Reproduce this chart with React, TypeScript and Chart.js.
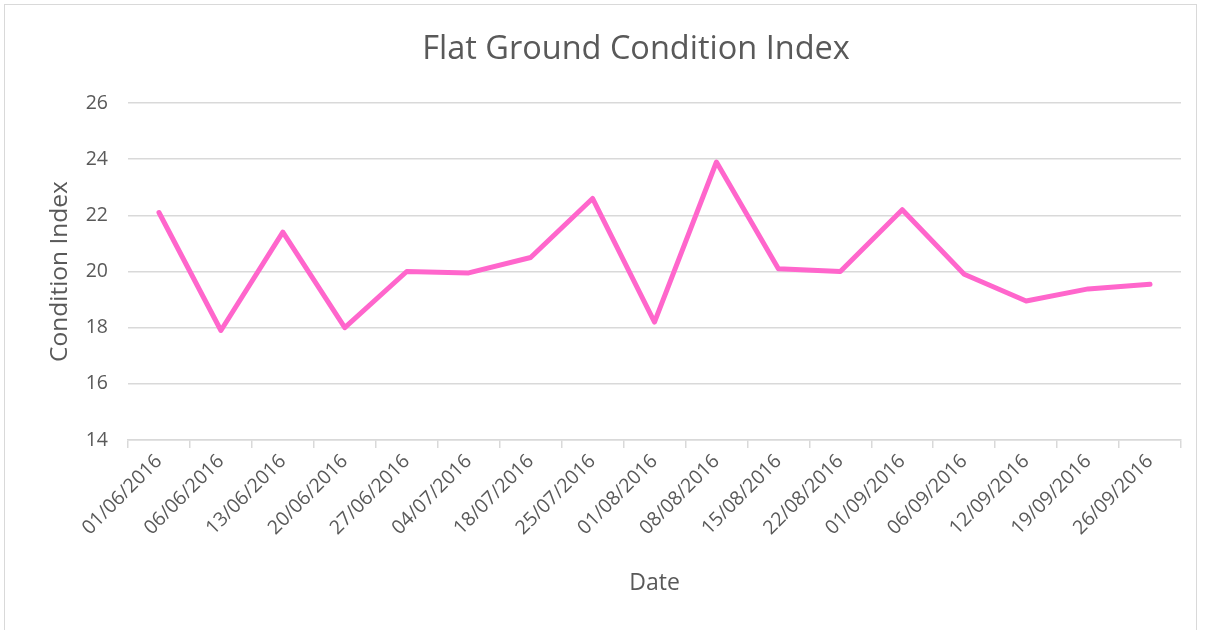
import React, { useEffect, useRef } from "react";
import { Chart, registerables } from "chart.js";

Chart.register(...registerables);

const categories = [
  "01/06/2016", "06/06/2016", "13/06/2016", "20/06/2016", "27/06/2016",
  "04/07/2016", "18/07/2016", "25/07/2016", "01/08/2016", "08/08/2016",
  "15/08/2016", "22/08/2016", "01/09/2016", "06/09/2016", "12/09/2016",
  "19/09/2016", "26/09/2016",
];
const conditionIndex = [
  22.1, 17.9, 21.4, 18.0, 20.0, 19.95, 20.5, 22.6, 18.2, 23.9,
  20.1, 20.0, 22.2, 19.9, 18.95, 19.38, 19.55,
];
const yMin = 14;
const yMax = 26;
const yStep = 2;
const chartTitle = "Flat Ground Condition Index";

const FONT = "'Open Sans', 'Liberation Sans', sans-serif";
const TEXT = "#595959";
const GRID = "#d9d9d9";

const titlePlugin = {
  id: "excelTitle",
  afterDraw(chart: any) {
    const ctx = chart.ctx;
    ctx.save();
    ctx.font = `32.5px ${FONT}`;
    ctx.fillStyle = TEXT;
    ctx.textAlign = "center";
    ctx.textBaseline = "middle";
    ctx.fillText(chartTitle, 636, 50);
    ctx.restore();
  },
};

export default function App() {
  const ref = useRef<HTMLCanvasElement | null>(null);
  useEffect(() => {
    if (!ref.current) return;
    const chart = new Chart(ref.current, {
      type: "line",
      data: {
        labels: categories,
        datasets: [
          {
            label: "Condition Index",
            data: conditionIndex,
            borderColor: "#FF66CC",
            backgroundColor: "#FF66CC",
            borderWidth: 5,
            pointRadius: 0,
            tension: 0,
            borderJoinStyle: "round",
            borderCapStyle: "round",
          },
        ],
      },
      plugins: [titlePlugin],
      options: {
        animation: false,
        responsive: false,
        maintainAspectRatio: false,
        layout: { padding: { left: 0, right: 24, top: 103, bottom: 0 } },
        plugins: {
          legend: { display: false },
          tooltip: { enabled: false },
          title: { display: false },
        },
        scales: {
          x: {
            offset: true,
            grid: {
              offset: true,
              drawOnChartArea: false,
              drawTicks: true,
              tickLength: 8,
              color: GRID,
              lineWidth: 1.5,
            },
            border: { display: true, color: GRID, width: 1.5 },
            ticks: {
              color: TEXT,
              font: { family: FONT, size: 19.5 },
              maxRotation: 45,
              minRotation: 45,
              padding: 2,
              autoSkip: false,
            },
            title: {
              display: true,
              text: "Date",
              color: TEXT,
              font: { family: FONT, size: 23, lineHeight: 1.2 },
              padding: { top: 0, bottom: 33 },
            },
            afterFit: (s: any) => {
              s.height = 190;
            },
          },
          y: {
            min: yMin,
            max: yMax,
            grid: { color: GRID, lineWidth: 1.5, drawTicks: false },
            border: { display: false },
            ticks: {
              stepSize: yStep,
              color: TEXT,
              font: { family: FONT, size: 19.5 },
              padding: 20,
            },
            title: {
              display: true,
              text: "Condition Index",
              color: TEXT,
              font: { family: FONT, size: 24.5, lineHeight: 1.2 },
              padding: { top: 45, bottom: 0 },
            },
            afterFit: (s: any) => {
              s.width = 128;
            },
          },
        },
      },
    });
    return () => chart.destroy();
  }, []);

  return (
    <div style={{ position: "fixed", left: 0, top: 0, width: 1205, height: 630, background: "#fff" }}>
      <div
        style={{
          position: "absolute",
          left: 4,
          top: 4,
          width: 1193,
          height: 640,
          border: "1px solid #d9d9d9",
          boxSizing: "border-box",
        }}
      />
      <canvas ref={ref} width={1205} height={630} style={{ position: "absolute", left: 0, top: 0 }} />
    </div>
  );
}
